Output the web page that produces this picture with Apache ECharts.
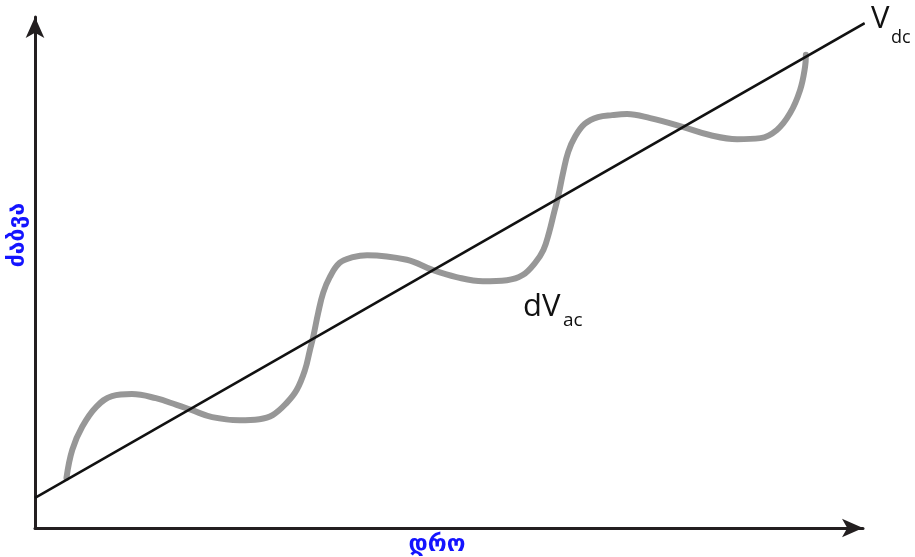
<!DOCTYPE html>
<html>
<head>
<meta charset="utf-8">
<script src="https://cdn.jsdelivr.net/npm/echarts@6/dist/echarts.min.js"></script>
<style>
  html, body { margin: 0; padding: 0; background: #fff; }
  #chart { width: 915px; height: 557px; }
</style>
</head>
<body>
<div id="chart"></div>
<script>
// DC level: straight ramp over time
const dcTime = [0, 10.02];
const dcVolts = [0.59, 9.88];

// DC level with the AC ripple riding on it
const rippleTime = [0.38, 0.45, 0.57, 0.74, 0.93, 1.17, 1.46, 1.71, 1.89, 2.14, 2.47, 2.71,
  2.87, 3.04, 3.16, 3.26, 3.32, 3.36, 3.42, 3.48, 3.56, 3.68, 3.84, 4.01,
  4.49, 4.80, 5.09, 5.41, 5.70,
  5.89, 6.04, 6.14, 6.21, 6.27, 6.32, 6.38, 6.44, 6.52, 6.64, 6.80, 6.97, 7.15,
  7.43, 7.82, 8.15, 8.48, 8.76, 8.96, 9.12, 9.24, 9.30, 9.31];
const rippleVolts = [0.98, 1.53, 1.98, 2.37, 2.58, 2.62, 2.54, 2.41, 2.31, 2.17, 2.11, 2.13,
  2.21, 2.45, 2.70, 3.09, 3.48, 3.74, 4.21, 4.60, 4.91, 5.19, 5.30, 5.34,
  5.25, 5.05, 4.91, 4.83, 4.85,
  4.95, 5.19, 5.44, 5.79, 6.18, 6.50, 6.97, 7.36, 7.65, 7.91, 8.04, 8.08, 8.10,
  8.02, 7.85, 7.69, 7.61, 7.63, 7.79, 8.12, 8.57, 9.02, 9.26];

const axisTitleX = 'დრო';
const axisTitleY = 'ძაბვა';

const pair = (xs, ys) => xs.map((x, i) => [x, ys[i]]);

const chart = echarts.init(document.getElementById('chart'), null, { renderer: 'canvas' });

const axisCommon = {
  type: 'value',
  min: 0,
  max: 10,
  axisLine: {
    show: true,
    symbol: ['none', 'arrow'],
    symbolSize: [14, 21],
    lineStyle: { color: '#231f20', width: 3 }
  },
  axisTick: { show: false },
  axisLabel: { show: false },
  splitLine: { show: false }
};

const labelFont = 'Open Sans';
const titleStyle = {
  fontFamily: 'DejaVu Sans', fontWeight: 'bold', fontSize: 23, fill: '#1414ff',
  align: 'center', verticalAlign: 'middle'
};

chart.setOption({
  animation: false,
  backgroundColor: '#ffffff',
  grid: { left: 35, right: 52, top: 17, bottom: 29, containLabel: false },
  xAxis: Object.assign({}, axisCommon),
  yAxis: Object.assign({}, axisCommon),
  series: [
    {
      name: 'ripple',
      type: 'line',
      data: pair(rippleTime, rippleVolts),
      smooth: 0.4,
      showSymbol: false,
      clip: false,
      lineStyle: { color: '#979797', width: 6, cap: 'round' },
      z: 2
    },
    {
      name: 'dc',
      type: 'line',
      data: pair(dcTime, dcVolts),
      showSymbol: false,
      clip: false,
      lineStyle: { color: '#111111', width: 2.5 },
      z: 3
    }
  ],
  graphic: [
    { type: 'text', x: 871, y: 35,
      style: { text: 'V', fontFamily: labelFont, fontSize: 31, fill: '#111', verticalAlign: 'bottom' } },
    { type: 'text', x: 891, y: 47,
      style: { text: 'dc', fontFamily: labelFont, fontSize: 18, fill: '#111', verticalAlign: 'bottom' } },
    { type: 'text', x: 523, y: 323,
      style: { text: 'dV', fontFamily: labelFont, fontSize: 31, fill: '#111', verticalAlign: 'bottom' } },
    { type: 'text', x: 563, y: 330,
      style: { text: 'ac', fontFamily: labelFont, fontSize: 19, fill: '#111', verticalAlign: 'bottom' } },
    { type: 'text', x: 437, y: 545,
      style: Object.assign({ text: axisTitleX }, titleStyle) },
    { type: 'text', x: 18, y: 235, rotation: Math.PI / 2,
      style: Object.assign({ text: axisTitleY }, titleStyle) }
  ]
});
</script>
</body>
</html>
